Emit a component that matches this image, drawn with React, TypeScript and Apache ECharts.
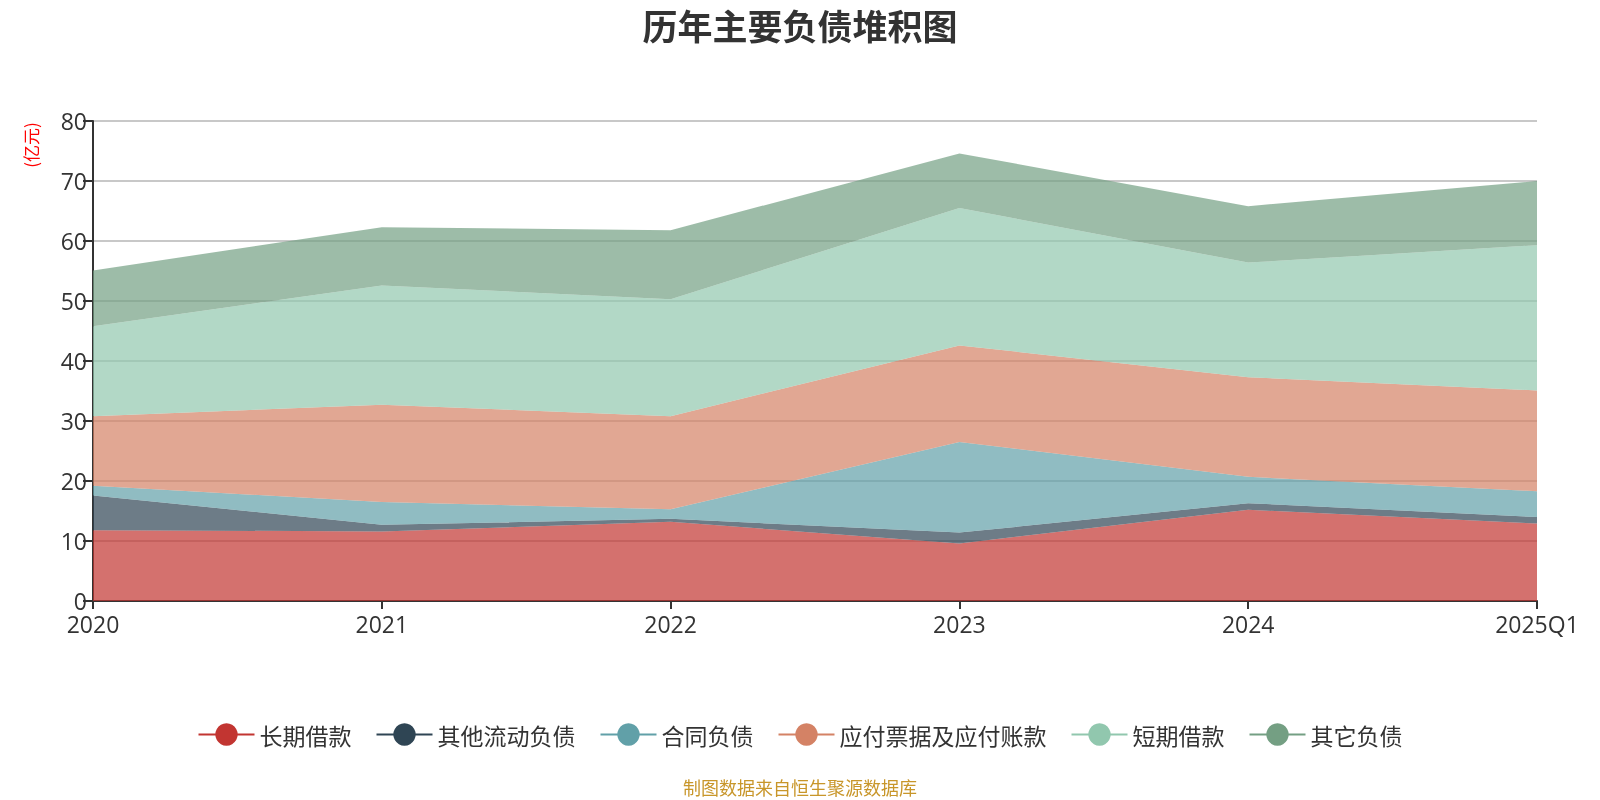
import React, { useEffect, useRef } from "react";
import * as echarts from "echarts";

const categories = ["2020", "2021", "2022", "2023", "2024", "2025Q1"];
const longLoan = [11.8, 11.6, 13.2, 9.6, 15.2, 12.9];
const otherCurrent = [5.8, 1.1, 0.5, 1.8, 1.1, 1.1];
const contract = [1.6, 3.8, 1.6, 15.1, 4.4, 4.3];
const payables = [11.6, 16.2, 15.5, 16.1, 16.6, 16.8];
const shortLoan = [15.0, 19.9, 19.5, 22.9, 19.1, 24.2];
const otherLiab = [9.3, 9.7, 11.5, 9.1, 9.4, 10.7];

const seriesNames = ["长期借款", "其他流动负债", "合同负债", "应付票据及应付账款", "短期借款", "其它负债"];
const seriesData = [longLoan, otherCurrent, contract, payables, shortLoan, otherLiab];
const colors = ["#c23531", "#2f4554", "#61a0a8", "#d48265", "#91c7ae", "#749f83"];

const FONT = "'Noto Sans CJK SC', 'Noto Sans', sans-serif";
const NUMFONT = "'Open Sans', 'Noto Sans CJK SC', sans-serif";

export default function App() {
  const ref = useRef<HTMLDivElement>(null);
  useEffect(() => {
    if (!ref.current) return;
    const chart = echarts.init(ref.current, undefined, { renderer: "svg" });
    chart.setOption({
      animation: false,
      color: colors,
      textStyle: { fontFamily: FONT },
      title: {
        text: "历年主要负债堆积图",
        left: "center",
        top: 2,
        textStyle: { fontSize: 35, fontWeight: "bold", color: "#333", fontFamily: FONT },
      },
      grid: { left: 93, right: 63, top: 121, bottom: 199, containLabel: false },
      legend: {
        top: 718,
        left: "center",
        itemWidth: 56,
        itemHeight: 28,
        itemGap: 24,
        lineStyle: { width: 2 },
        textStyle: { fontSize: 23, color: "#333", fontFamily: FONT },
        data: seriesNames,
      },
      xAxis: {
        type: "category",
        boundaryGap: false,
        data: categories,
        axisLine: { lineStyle: { color: "#333", width: 2 } },
        axisTick: { length: 8, lineStyle: { color: "#333", width: 2 } },
        axisLabel: { fontSize: 23, color: "#333", margin: 11, fontFamily: NUMFONT },
      },
      yAxis: {
        type: "value",
        min: 0,
        max: 80,
        interval: 10,
        axisLine: { show: true, lineStyle: { color: "#333", width: 2 } },
        axisTick: { show: true, length: 10, lineStyle: { color: "#333", width: 2 } },
        axisLabel: { fontSize: 23, color: "#333", margin: 6, fontFamily: NUMFONT },
        splitLine: { lineStyle: { color: "#c8c8c8", width: 2 } },
      },
      graphic: [
        {
          type: "text",
          x: 30,
          y: 145,
          rotation: Math.PI / 2,
          style: {
            text: "(亿元)",
            fill: "#ff0000",
            fontSize: 17,
            fontFamily: FONT,
            align: "center",
            verticalAlign: "middle",
          },
        },
        {
          type: "text",
          x: 800,
          y: 787,
          style: {
            text: "制图数据来自恒生聚源数据库",
            fill: "#c8962a",
            fontSize: 18,
            fontFamily: FONT,
            align: "center",
            verticalAlign: "middle",
          },
        },
      ],
      series: seriesNames.map((name, i) => ({
        name,
        type: "line",
        stack: "total",
        data: seriesData[i],
        symbol: "none",
        lineStyle: { width: 0 },
        areaStyle: { opacity: 0.7 },
      })),
    });
    return () => chart.dispose();
  }, []);
  return (
    <div
      ref={ref}
      style={{ position: "fixed", left: 0, top: 0, width: 1600, height: 800 }}
    />
  );
}
